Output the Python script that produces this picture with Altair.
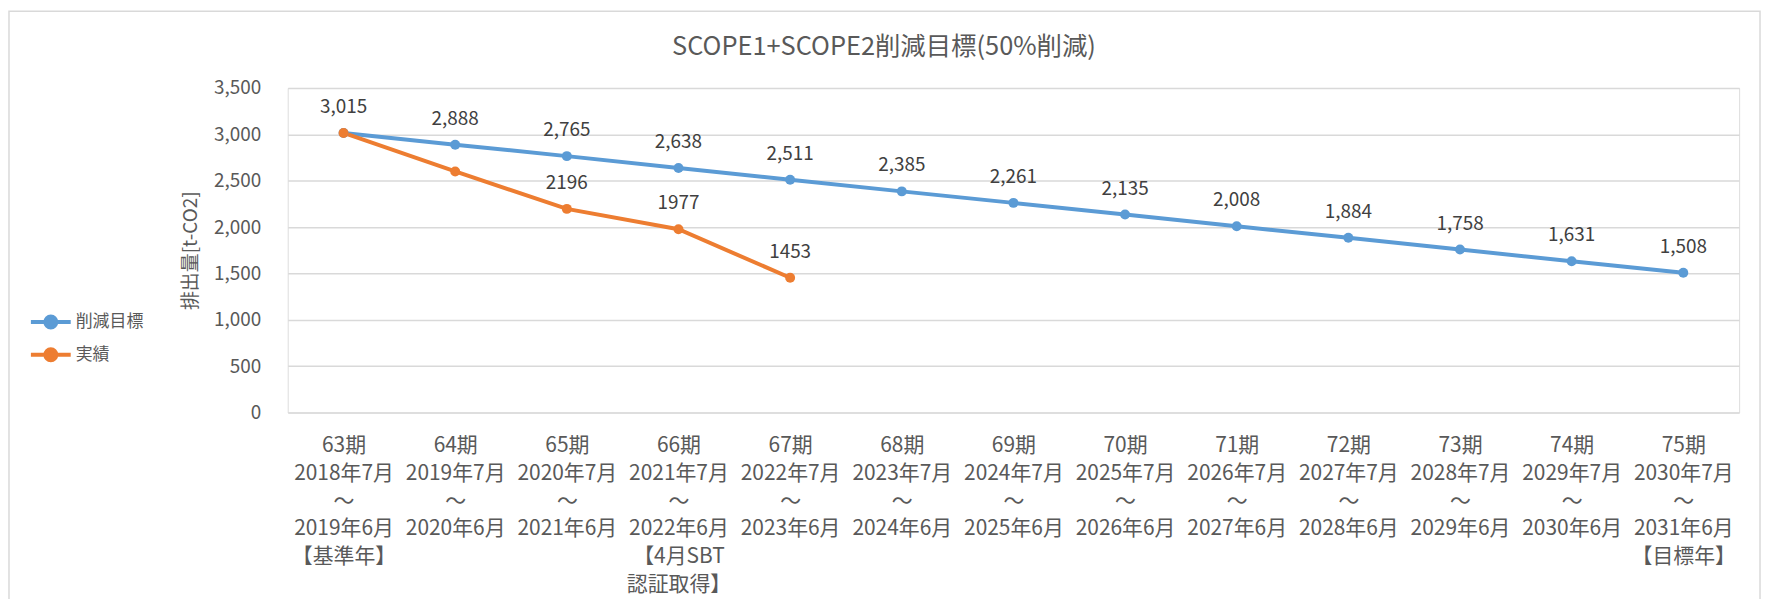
import altair as alt
import pandas as pd

# ---- data ----
periods = ["63期", "64期", "65期", "66期", "67期", "68期", "69期",
           "70期", "71期", "72期", "73期", "74期", "75期"]
starts = ["2018年7月", "2019年7月", "2020年7月", "2021年7月", "2022年7月", "2023年7月",
          "2024年7月", "2025年7月", "2026年7月", "2027年7月", "2028年7月", "2029年7月", "2030年7月"]
ends = ["2019年6月", "2020年6月", "2021年6月", "2022年6月", "2023年6月", "2024年6月",
        "2025年6月", "2026年6月", "2027年6月", "2028年6月", "2029年6月", "2030年6月", "2031年6月"]
notes = ["【基準年】", "", "", "【4月SBT|認証取得】", "", "", "", "", "", "", "", "", "【目標年】"]

target = [3015, 2888, 2765, 2638, 2511, 2385, 2261, 2135, 2008, 1884, 1758, 1631, 1508]
actual = [3015, 2600, 2196, 1977, 1453, None, None, None, None, None, None, None, None]
actual_labels = ["", "", "2196", "1977", "1453", "", "", "", "", "", "", "", ""]

y_ticks = [0, 500, 1000, 1500, 2000, 2500, 3000, 3500]
series_names = ["削減目標", "実績"]
series_colors = ["#5B9BD5", "#ED7D31"]

FONT = "Noto Sans CJK JP"
TXT = "#595959"

cats = []
for p, s, e, n in zip(periods, starts, ends, notes):
    parts = [p, s, "～", e] + ([n] if n else [])
    cats.append("|".join(parts))

rows = []
for c, v in zip(cats, target):
    rows.append({"cat": c, "series": series_names[0], "value": v, "label": f"{v:,}"})
for c, v, l in zip(cats, actual, actual_labels):
    if v is not None:
        rows.append({"cat": c, "series": series_names[1], "value": v, "label": l})
df = pd.DataFrame(rows)

x_enc = alt.X(
    "cat:N", sort=cats, title=None,
    axis=alt.Axis(labelExpr="split(datum.value, '|')", labelAngle=0, labelFontSize=21,
                  labelFont=FONT, labelColor=TXT, labelLineHeight=28, labelBaseline="top",
                  labelPadding=22, domain=False, ticks=False, grid=False, labelAlign="center"),
)
y_enc = alt.Y(
    "value:Q", title="排出量[t-CO2]",
    scale=alt.Scale(domain=[0, 3500], nice=False, zero=True),
    axis=alt.Axis(values=y_ticks, format=",.0f", labelFontSize=19, labelFont=FONT, labelColor=TXT,
                  labelPadding=27, domain=False, ticks=False, grid=True, gridColor="#D9D9D9",
                  gridWidth=1.5, titleFont=FONT, titleFontSize=19, titleColor=TXT,
                  titleFontWeight="normal", titleAngle=-90, titleX=-98, titleY=163,
                  titleAlign="center", titleBaseline="middle"),
)

sym = "M-2,0H2M-0.55,0A0.55,0.55 0 1,1 0.55,0A0.55,0.55 0 1,1 -0.55,0Z"
legend = alt.Legend(
    title=None, orient="none", legendX=-250, legendY=223, symbolType=sym, symbolSize=400,
    symbolStrokeWidth=4, labelOffset=13, rowPadding=5, labelFontSize=17, labelFont=FONT,
    labelColor=TXT,
)
scale = alt.Scale(domain=series_names, range=series_colors)

base = alt.Chart(df)
lines = base.mark_line(strokeWidth=4).encode(
    x=x_enc, y=y_enc, stroke=alt.Stroke("series:N", scale=scale, legend=legend),
    detail="series:N")
points = base.mark_circle(size=100, opacity=1).encode(
    x=x_enc, y=y_enc, fill=alt.Fill("series:N", scale=scale, legend=legend))
texts = base.mark_text(dy=-26, fontSize=19, font=FONT, color="#404040",
                       baseline="middle").encode(x=x_enc, y=y_enc, text="label:N")

frame = alt.Chart(pd.DataFrame({"k": [0]})).mark_rect(
    fill=None, stroke="#D9D9D9", strokeWidth=1.5, clip=False
).encode(x=alt.value(-280), x2=alt.value(1479), y=alt.value(-77), y2=alt.value(560))

chart = alt.layer(frame, lines, points, texts).properties(
    width=1458, height=326,
    title=alt.TitleParams("SCOPE1+SCOPE2削減目標(50%削減)", font=FONT, fontSize=25.5,
                          fontWeight="normal", color=TXT, anchor="middle", offset=-50, dx=-130),
    autosize=alt.AutoSizeParams(type="none"),
    padding={"left": 281, "top": 79, "right": 25, "bottom": 186},
).configure_view(stroke=None).configure(background="white")

chart.save("out.html", embed_options={"renderer": "svg", "actions": False})
